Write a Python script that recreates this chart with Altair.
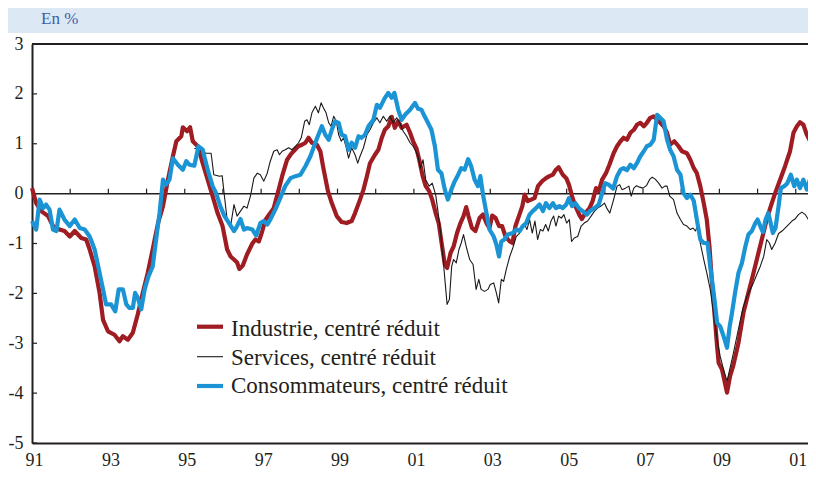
import altair as alt
import pandas as pd

# ---------------- data ----------------
ind_t = [1991.00, 1991.11, 1991.24, 1991.42, 1991.55, 1991.72, 1991.85, 1991.99, 1992.12, 1992.29,
         1992.42, 1992.51, 1992.64, 1992.77, 1992.86, 1992.99, 1993.16, 1993.29, 1993.38, 1993.51,
         1993.64, 1993.77, 1993.90, 1994.03, 1994.16, 1994.30, 1994.43, 1994.56, 1994.69, 1994.78,
         1994.91, 1994.95, 1995.06, 1995.14, 1995.21, 1995.34, 1995.47, 1995.60, 1995.73, 1995.86,
         1995.99, 1996.11, 1996.20, 1996.29, 1996.37, 1996.43, 1996.52, 1996.63, 1996.77, 1996.85,
         1996.94, 1997.03, 1997.11, 1997.24, 1997.33, 1997.46, 1997.55, 1997.68, 1997.77, 1997.85,
         1997.97, 1998.07, 1998.16, 1998.24, 1998.33, 1998.46, 1998.55, 1998.63, 1998.75, 1998.85,
         1998.98, 1999.11, 1999.24, 1999.37, 1999.46, 1999.59, 1999.68, 1999.77, 1999.85, 1999.98,
         2000.07, 2000.16, 2000.24, 2000.33, 2000.42, 2000.50, 2000.59, 2000.68, 2000.81, 2000.90,
         2000.98, 2001.07, 2001.14, 2001.23, 2001.31, 2001.40, 2001.48, 2001.57, 2001.65, 2001.74,
         2001.81, 2001.87, 2001.96, 2002.04, 2002.13, 2002.22, 2002.30, 2002.37, 2002.43, 2002.52,
         2002.61, 2002.72, 2002.81, 2002.90, 2002.98, 2003.05, 2003.14, 2003.23, 2003.31, 2003.40,
         2003.51, 2003.58, 2003.66, 2003.75, 2003.84, 2003.90, 2003.98, 2004.07, 2004.16, 2004.25,
         2004.36, 2004.46, 2004.55, 2004.64, 2004.72, 2004.79, 2004.90, 2004.99, 2005.06, 2005.14,
         2005.23, 2005.33, 2005.40, 2005.49, 2005.60, 2005.68, 2005.77, 2005.84, 2005.93, 2006.03,
         2006.12, 2006.23, 2006.32, 2006.41, 2006.49, 2006.58, 2006.67, 2006.76, 2006.84, 2006.93,
         2007.02, 2007.10, 2007.19, 2007.28, 2007.37, 2007.45, 2007.54, 2007.63, 2007.71, 2007.82,
         2007.93, 2008.02, 2008.15, 2008.24, 2008.33, 2008.41, 2008.50, 2008.59, 2008.67, 2008.74,
         2008.80, 2008.87, 2008.94, 2008.98, 2009.07, 2009.20, 2009.28, 2009.36, 2009.50, 2009.63,
         2009.76, 2009.85, 2009.98, 2010.11, 2010.24, 2010.33, 2010.46, 2010.59, 2010.72, 2010.85,
         2010.94, 2011.03, 2011.11, 2011.20, 2011.29, 2011.38, 2011.46, 2011.53]
ind_v = [0.11, -0.19, -0.35, -0.45, -0.65, -0.72, -0.75, -0.86, -0.75, -0.89,
         -0.92, -1.12, -1.46, -1.99, -2.53, -2.76, -2.83, -2.96, -2.86, -2.93,
         -2.79, -2.42, -1.99, -1.59, -1.12, -0.59, -0.25, 0.28, 0.75, 1.05,
         1.15, 1.33, 1.25, 1.33, 1.05, 0.95, 0.61, 0.28, -0.05, -0.39,
         -0.65, -1.12, -1.26, -1.32, -1.38, -1.51, -1.44, -1.22, -1.00, -0.92,
         -0.96, -0.75, -0.53, -0.39, -0.29, 0.08, 0.35, 0.68, 0.78, 0.85,
         0.95, 0.98, 1.02, 1.12, 1.02, 0.98, 0.85, 0.51, 0.05, -0.19,
         -0.45, -0.57, -0.59, -0.55, -0.39, -0.12, 0.08, 0.35, 0.61, 0.78,
         0.88, 1.12, 1.28, 1.35, 1.54, 1.32, 1.45, 1.32, 1.38, 1.22,
         1.05, 0.90, 0.68, 0.35, 0.15, 0.05, -0.12, -0.39, -0.59, -1.06,
         -1.42, -1.49, -1.19, -1.06, -0.79, -0.59, -0.45, -0.27, -0.45, -0.69,
         -0.75, -0.49, -0.42, -0.59, -0.69, -0.44, -0.49, -0.65, -0.65, -0.86,
         -0.96, -0.99, -0.65, -0.45, -0.25, -0.02, -0.15, -0.12, -0.09, 0.15,
         0.25, 0.31, 0.35, 0.38, 0.48, 0.53, 0.38, 0.31, 0.18, -0.05,
         -0.25, -0.42, -0.51, -0.39, -0.29, -0.15, 0.11, 0.05, 0.28, 0.41,
         0.58, 0.81, 0.95, 1.05, 1.12, 1.08, 1.22, 1.28, 1.38, 1.42,
         1.35, 1.42, 1.52, 1.55, 1.48, 1.42, 1.35, 1.22, 0.98, 1.05,
         0.95, 0.85, 0.81, 0.68, 0.51, 0.41, 0.15, -0.19, -0.52, -1.06,
         -1.72, -2.39, -3.06, -3.39, -3.53, -3.99, -3.66, -3.46, -2.99, -2.39,
         -1.99, -1.72, -1.32, -0.92, -0.52, -0.29, 0.01, 0.28, 0.55, 0.85,
         1.22, 1.35, 1.43, 1.38, 1.18, 1.05, 0.81, 0.55]

srv_t = [1995.25, 1995.34, 1995.43, 1995.56, 1995.69, 1995.76, 1995.91, 1995.98, 1996.03, 1996.11,
         1996.20, 1996.29, 1996.37, 1996.46, 1996.55, 1996.63, 1996.72, 1996.81, 1996.90, 1996.98,
         1997.07, 1997.16, 1997.24, 1997.33, 1997.42, 1997.48, 1997.55, 1997.63, 1997.72, 1997.81,
         1997.90, 1997.98, 1998.05, 1998.14, 1998.20, 1998.26, 1998.33, 1998.42, 1998.50, 1998.57,
         1998.63, 1998.70, 1998.77, 1998.83, 1998.90, 1998.97, 1999.03, 1999.10, 1999.16, 1999.22,
         1999.29, 1999.37, 1999.46, 1999.53, 1999.59, 1999.68, 1999.77, 1999.85, 1999.94, 2000.03,
         2000.11, 2000.20, 2000.29, 2000.37, 2000.46, 2000.55, 2000.63, 2000.72, 2000.81, 2000.90,
         2000.98, 2001.05, 2001.11, 2001.17, 2001.24, 2001.31, 2001.40, 2001.48, 2001.57, 2001.63,
         2001.69, 2001.76, 2001.82, 2001.87, 2001.93, 2001.99, 2002.04, 2002.11, 2002.18, 2002.24,
         2002.30, 2002.37, 2002.46, 2002.55, 2002.63, 2002.70, 2002.76, 2002.85, 2002.94, 2003.00,
         2003.09, 2003.16, 2003.22, 2003.29, 2003.35, 2003.42, 2003.51, 2003.59, 2003.68, 2003.77,
         2003.84, 2003.90, 2003.96, 2004.03, 2004.10, 2004.17, 2004.24, 2004.31, 2004.38, 2004.45,
         2004.52, 2004.59, 2004.66, 2004.72, 2004.79, 2004.86, 2004.93, 2005.00, 2005.07, 2005.13,
         2005.20, 2005.29, 2005.38, 2005.46, 2005.55, 2005.64, 2005.73, 2005.81, 2005.90, 2005.99,
         2006.05, 2006.13, 2006.23, 2006.32, 2006.39, 2006.45, 2006.54, 2006.63, 2006.69, 2006.76,
         2006.83, 2006.91, 2007.00, 2007.09, 2007.17, 2007.24, 2007.32, 2007.41, 2007.50, 2007.57,
         2007.63, 2007.70, 2007.80, 2007.89, 2007.98, 2008.06, 2008.15, 2008.24, 2008.31, 2008.37,
         2008.43, 2008.50, 2008.59, 2008.67, 2008.76, 2008.85, 2008.94, 2009.02, 2009.11, 2009.20,
         2009.27, 2009.35, 2009.44, 2009.55, 2009.63, 2009.72, 2009.81, 2009.89, 2009.98, 2010.07,
         2010.16, 2010.24, 2010.31, 2010.37, 2010.46, 2010.55, 2010.64, 2010.72, 2010.81, 2010.90,
         2010.98, 2011.07, 2011.16, 2011.25, 2011.33, 2011.40, 2011.48, 2011.53]
srv_v = [0.90, 0.92, 0.85, 0.81, 0.81, 0.38, 0.35, 0.36, 0.01, -0.52,
         -0.65, -0.22, -0.45, -0.35, -0.25, -0.29, -0.05, 0.31, 0.41, 0.38,
         0.25, 0.41, 0.65, 0.85, 0.88, 0.78, 0.85, 0.88, 0.92, 0.88,
         0.95, 1.02, 1.12, 1.45, 1.48, 1.38, 1.62, 1.75, 1.62, 1.82,
         1.72, 1.62, 1.42, 1.35, 1.55, 1.45, 1.18, 1.05, 1.12, 0.95,
         0.71, 0.92, 0.78, 0.61, 0.75, 0.92, 1.18, 1.28, 1.42, 1.52,
         1.42, 1.55, 1.45, 1.55, 1.42, 1.52, 1.42, 1.25, 1.15, 1.02,
         0.95, 0.85, 0.75, 0.51, 0.68, 0.28, 0.15, 0.21, -0.02, -0.35,
         -0.72, -1.26, -1.79, -2.22, -2.12, -1.46, -1.32, -1.39, -1.12, -0.99,
         -0.82, -1.06, -1.32, -1.42, -1.92, -1.72, -1.92, -1.96, -1.92, -1.82,
         -1.79, -1.99, -2.19, -1.72, -1.76, -1.52, -1.26, -1.09, -0.86, -0.79,
         -0.69, -0.62, -0.72, -0.52, -0.79, -0.55, -0.92, -0.72, -0.75, -0.62,
         -0.75, -0.55, -0.45, -0.65, -0.45, -0.49, -0.42, -0.59, -0.52, -0.96,
         -0.89, -0.86, -0.65, -0.59, -0.55, -0.45, -0.35, -0.29, -0.25, -0.19,
         -0.29, -0.39, -0.12, 0.15, 0.18, 0.08, 0.11, 0.15, -0.05, 0.11,
         0.16, 0.13, 0.11, 0.16, 0.28, 0.33, 0.29, 0.21, 0.11, 0.15,
         0.15, -0.05, -0.12, -0.39, -0.52, -0.62, -0.65, -0.72, -0.69, -0.75,
         -0.65, -0.99, -1.32, -1.59, -1.92, -2.39, -2.93, -3.26, -3.53, -3.76,
         -3.53, -3.26, -2.93, -2.53, -2.26, -2.06, -1.92, -1.79, -1.62, -1.46,
         -1.26, -0.92, -0.99, -1.12, -0.99, -0.80, -0.75, -0.69, -0.62, -0.55,
         -0.51, -0.42, -0.37, -0.42, -0.52, -0.45, -0.65, -0.70]

con_t = [1991.00, 1991.11, 1991.20, 1991.29, 1991.37, 1991.46, 1991.55, 1991.64, 1991.72, 1991.85,
         1991.99, 1992.12, 1992.25, 1992.38, 1992.51, 1992.64, 1992.77, 1992.86, 1992.94, 1993.07,
         1993.18, 1993.27, 1993.38, 1993.47, 1993.55, 1993.64, 1993.70, 1993.77, 1993.86, 1993.95,
         1994.05, 1994.16, 1994.25, 1994.34, 1994.43, 1994.51, 1994.60, 1994.69, 1994.82, 1994.95,
         1995.04, 1995.12, 1995.25, 1995.36, 1995.47, 1995.60, 1995.73, 1995.82, 1995.93, 1996.04,
         1996.16, 1996.29, 1996.37, 1996.46, 1996.55, 1996.63, 1996.77, 1996.87, 1996.98, 1997.07,
         1997.16, 1997.24, 1997.37, 1997.50, 1997.63, 1997.77, 1997.90, 1998.03, 1998.16, 1998.29,
         1998.42, 1998.50, 1998.59, 1998.68, 1998.77, 1998.85, 1998.94, 1999.03, 1999.11, 1999.20,
         1999.29, 1999.37, 1999.46, 1999.55, 1999.63, 1999.72, 1999.81, 1999.94, 2000.03, 2000.11,
         2000.24, 2000.33, 2000.42, 2000.49, 2000.59, 2000.68, 2000.77, 2000.90, 2001.03, 2001.11,
         2001.20, 2001.28, 2001.37, 2001.46, 2001.55, 2001.63, 2001.72, 2001.81, 2001.89, 2001.98,
         2002.07, 2002.16, 2002.24, 2002.33, 2002.42, 2002.50, 2002.59, 2002.68, 2002.74, 2002.81,
         2002.90, 2002.98, 2003.09, 2003.16, 2003.23, 2003.29, 2003.37, 2003.46, 2003.59, 2003.68,
         2003.77, 2003.85, 2003.94, 2004.03, 2004.11, 2004.20, 2004.29, 2004.38, 2004.46, 2004.55,
         2004.64, 2004.72, 2004.81, 2004.90, 2004.99, 2005.06, 2005.14, 2005.23, 2005.32, 2005.42,
         2005.53, 2005.61, 2005.73, 2005.84, 2005.93, 2006.01, 2006.10, 2006.22, 2006.32, 2006.41,
         2006.49, 2006.58, 2006.67, 2006.76, 2006.84, 2006.93, 2007.02, 2007.10, 2007.19, 2007.28,
         2007.37, 2007.45, 2007.54, 2007.63, 2007.71, 2007.80, 2007.89, 2007.98, 2008.06, 2008.15,
         2008.24, 2008.33, 2008.41, 2008.50, 2008.59, 2008.69, 2008.76, 2008.85, 2008.94, 2009.02,
         2009.11, 2009.20, 2009.27, 2009.33, 2009.41, 2009.50, 2009.59, 2009.68, 2009.76, 2009.85,
         2009.94, 2010.00, 2010.07, 2010.14, 2010.21, 2010.28, 2010.33, 2010.40, 2010.47, 2010.55,
         2010.61, 2010.70, 2010.78, 2010.87, 2010.96, 2011.03, 2011.11, 2011.20, 2011.29, 2011.38,
         2011.46, 2011.53]
con_v = [-0.55, -0.72, -0.12, -0.29, -0.22, -0.32, -0.72, -0.75, -0.32, -0.52,
         -0.65, -0.52, -0.69, -0.72, -0.86, -1.12, -1.59, -1.92, -2.22, -2.22,
         -2.36, -1.92, -1.92, -2.22, -2.29, -2.29, -1.99, -2.09, -2.32, -1.92,
         -1.66, -1.46, -0.92, -0.39, 0.28, 0.18, 0.28, 0.71, 0.58, 0.48,
         0.65, 0.58, 0.56, 0.95, 0.88, 0.48, 0.15, 0.01, -0.25, -0.45,
         -0.59, -0.75, -0.65, -0.51, -0.72, -0.69, -0.72, -0.84, -0.59, -0.55,
         -0.62, -0.52, -0.32, -0.09, 0.15, 0.31, 0.35, 0.38, 0.55, 0.75,
         1.02, 1.18, 1.35, 1.18, 1.08, 1.28, 1.45, 1.42, 1.18, 1.15,
         0.88, 1.02, 0.92, 1.15, 1.12, 1.18, 1.35, 1.48, 1.78, 1.72,
         1.92, 2.02, 1.92, 2.02, 1.68, 1.48, 1.58, 1.68, 1.82, 1.70,
         1.68, 1.55, 1.42, 1.28, 0.95, 0.48, 0.41, 0.08, -0.12, 0.08,
         0.25, 0.38, 0.51, 0.48, 0.69, 0.55, 0.28, 0.15, 0.35, -0.02,
         -0.39, -0.72, -0.86, -1.02, -1.26, -0.96, -0.92, -0.82, -0.79, -0.72,
         -0.75, -0.65, -0.59, -0.42, -0.35, -0.29, -0.22, -0.35, -0.19, -0.29,
         -0.19, -0.29, -0.25, -0.29, -0.22, -0.09, -0.25, -0.19, -0.29, -0.35,
         -0.42, -0.35, -0.29, -0.22, 0.01, 0.21, 0.18, 0.10, 0.35, 0.48,
         0.51, 0.47, 0.58, 0.51, 0.61, 0.75, 0.85, 0.95, 0.98, 1.08,
         1.58, 1.52, 1.45, 1.08, 0.88, 0.75, 0.48, 0.38, 0.01, -0.09,
         -0.02, -0.15, -0.52, -0.92, -0.99, -0.99, -1.46, -1.99, -2.59, -2.66,
         -2.86, -3.09, -2.66, -2.39, -1.99, -1.59, -1.39, -1.06, -0.82, -0.75,
         -0.59, -0.52, -0.65, -0.77, -0.52, -0.39, -0.55, -0.79, -0.69, -0.25,
         0.11, 0.15, 0.21, 0.38, 0.15, 0.28, 0.11, 0.28, 0.08, 0.31,
         0.35, -0.19]

series_names = ["Industrie, centré réduit", "Services, centré réduit", "Consommateurs, centré réduit"]
series_colors = ["#9e1c22", "#1a1a1a", "#1a94d4"]
series_widths = [4.2, 1.1, 4.2]

x_label_years = list(range(1991, 2012, 2))
x_label_texts = ["91", "93", "95", "97", "99", "01", "03", "05", "07", "09", "01"]
zero_tick_years = list(range(1992, 2012))
y_tick_values = list(range(-5, 4))
x_domain = [1991.0, 2011.53]
y_domain = [-5, 3]
unit_label = "En %"

# ---------------- styling ----------------
FONT = "Liberation Serif"
INK = "#231f20"
W, H = 784, 399

df_ind = pd.DataFrame({"t": ind_t, "v": ind_v})
df_srv = pd.DataFrame({"t": srv_t, "v": srv_v})
df_con = pd.DataFrame({"t": con_t, "v": con_v})

x_scale = alt.Scale(domain=x_domain, nice=False, zero=False)
y_scale = alt.Scale(domain=y_domain, nice=False, zero=False)

label_expr = "[{}][indexof([{}], datum.value)]".format(
    ", ".join("'{}'".format(s) for s in x_label_texts),
    ", ".join(str(y) for y in x_label_years))

x_axis = alt.Axis(values=x_label_years, labelExpr=label_expr,
                  ticks=False, grid=False, domain=True, domainColor=INK, domainWidth=2,
                  labelFont=FONT, labelFontSize=18, labelColor=INK, labelPadding=8,
                  labelFlush=False, labelOffset=2, title=None)
y_axis = alt.Axis(values=y_tick_values, labelExpr="toString(datum.value)",
                  ticks=False, grid=False, domain=True, domainColor=INK, domainWidth=2,
                  labelFont=FONT, labelFontSize=18, labelColor=INK, labelPadding=9,
                  labelFlush=False, title=None)

X = alt.X("t:Q", scale=x_scale, axis=x_axis)
Y = alt.Y("v:Q", scale=y_scale, axis=y_axis)


def line(df, i):
    return alt.Chart(df).mark_line(color=series_colors[i], strokeWidth=series_widths[i],
                                   strokeJoin="round", strokeCap="butt").encode(x=X, y=Y)


one = pd.DataFrame({"a": [0]})

header = alt.Chart(one).mark_rect(color="#dde8f5").encode(
    x=alt.value(-24), x2=alt.value(W + 10), y=alt.value(-40), y2=alt.value(-11))
unit = alt.Chart(one).mark_text(text=unit_label, font=FONT, fontSize=17, color="#3d5ea8",
                                align="left", baseline="alphabetic").encode(
    x=alt.value(9), y=alt.value(-20))

top_border = alt.Chart(one).mark_rule(color=INK, strokeWidth=2).encode(
    x=alt.value(0), x2=alt.value(W), y=alt.value(0))

zero_df = pd.DataFrame({"v": [0]})
zero_line = alt.Chart(zero_df).mark_rule(color=INK, strokeWidth=1.5).encode(
    y=alt.Y("v:Q", scale=y_scale), x=alt.value(0), x2=alt.value(W))

zt_df = pd.DataFrame({"t": zero_tick_years, "v0": [0] * len(zero_tick_years),
                      "v1": [0.1] * len(zero_tick_years)})
zero_ticks = alt.Chart(zt_df).mark_rule(color=INK, strokeWidth=1.2).encode(
    x=alt.X("t:Q", scale=x_scale), y=alt.Y("v0:Q", scale=y_scale), y2="v1:Q")

yt_df = pd.DataFrame({"v": y_tick_values})
y_ticks = alt.Chart(yt_df).mark_rule(color=INK, strokeWidth=1.2).encode(
    y=alt.Y("v:Q", scale=y_scale), x=alt.value(0), x2=alt.value(5))

# legend (drawn inside the plot)
leg_sym_y = [282.7, 312.7, 342.0]
leg_txt_y = [292.0, 320.5, 349.0]
legend_layers = []
for i, name in enumerate(series_names):
    legend_layers.append(
        alt.Chart(one).mark_rule(color=series_colors[i], strokeWidth=series_widths[i]).encode(
            x=alt.value(165), x2=alt.value(191), y=alt.value(leg_sym_y[i])))
    legend_layers.append(
        alt.Chart(one).mark_text(text=name, font=FONT, fontSize=23,
                                 color=INK, align="left", baseline="alphabetic").encode(
            x=alt.value(199), y=alt.value(leg_txt_y[i])))

chart = alt.layer(
    header, unit,
    zero_line, zero_ticks, y_ticks,
    line(df_ind, 0), line(df_srv, 1), line(df_con, 2),
    top_border,
    *legend_layers,
).properties(
    width=W, height=H,
    padding={"left": 24, "top": 36, "right": -8, "bottom": 27},
    autosize=alt.AutoSizeParams(type="none"),
    background="white",
).configure_view(stroke=None)

chart.save("out.html", embed_options={"renderer": "svg", "actions": False})
